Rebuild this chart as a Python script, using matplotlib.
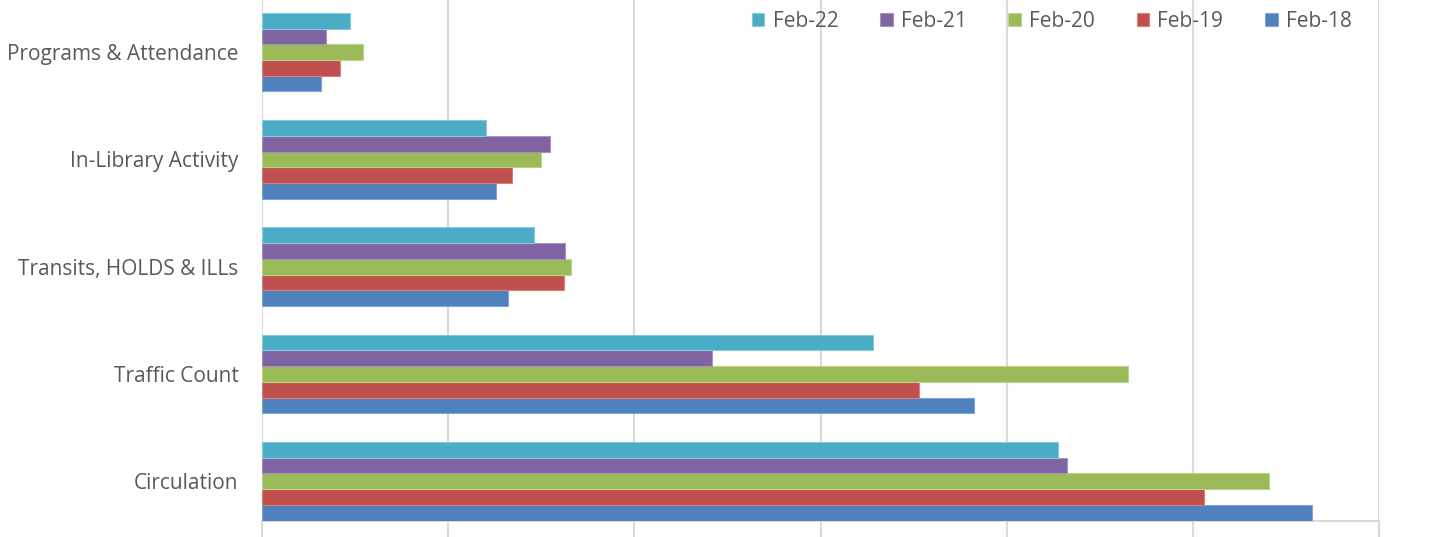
import numpy as np
import matplotlib.pyplot as plt

categories = ['Circulation', 'Traffic Count', 'Transits, HOLDS & ILLs',
              'In-Library Activity', 'Programs & Attendance']
series = ['Feb-18', 'Feb-19', 'Feb-20', 'Feb-21', 'Feb-22']
feb18 = [11275, 7651, 2646, 2517, 630]
feb19 = [10121, 7054, 3241, 2689, 838]
feb20 = [10813, 9302, 3316, 2997, 1082]
feb21 = [8643, 4830, 3251, 3090, 691]
feb22 = [8550, 6563, 2922, 2403, 942]
colors = ['#4F81BD', '#C0504D', '#9BBB59', '#8064A2', '#4BACC6']
edges = ['#7FA3D3', '#D5807D', '#BBD38E', '#A592C0', '#85CADB']

plt.rcParams['font.family'] = ['Open Sans', 'DejaVu Sans']

fig = plt.figure(figsize=(14.32, 5.37), dpi=100)
ax = fig.add_axes([0.183, 16 / 537, 0.780, 521 / 537])

y = np.arange(len(categories))
h = 0.1463
vals = [feb18, feb19, feb20, feb21, feb22]
bars = []
for i, v in enumerate(vals):
    b = ax.barh(y + (i - 2) * h, v, height=h, color=colors[i],
                edgecolor=edges[i], linewidth=0.8, label=series[i], zorder=3)
    bars.append(b)

ax.set_xlim(0, 12000)
ax.set_ylim(-0.37, 4.486)
ax.set_xticks(np.arange(0, 12001, 2000))
ax.set_xticklabels([])
ax.set_yticks(y)
ax.set_yticklabels(categories, fontsize=15, color='#595959')
ax.tick_params(axis='y', length=0, pad=17)
ax.tick_params(axis='x', length=12, width=1.5, color='#D9D9D9', direction='out')
ax.grid(axis='x', color='#D9D9D9', linewidth=1.5, zorder=0)
for s in ['top', 'right', 'left']:
    ax.spines[s].set_visible(False)
ax.spines['bottom'].set_color('#D9D9D9')
ax.spines['bottom'].set_linewidth(1.5)

handles = bars[::-1]
ax.legend(handles, series[::-1], ncol=5, frameon=False, loc='center',
          bbox_to_anchor=(0.707, 1 - 21 / 521), fontsize=15, handlelength=0.6,
          handleheight=0.6, handletextpad=0.4, columnspacing=2.0,
          labelcolor='#595959')

fig.savefig('out.png', dpi=100)
